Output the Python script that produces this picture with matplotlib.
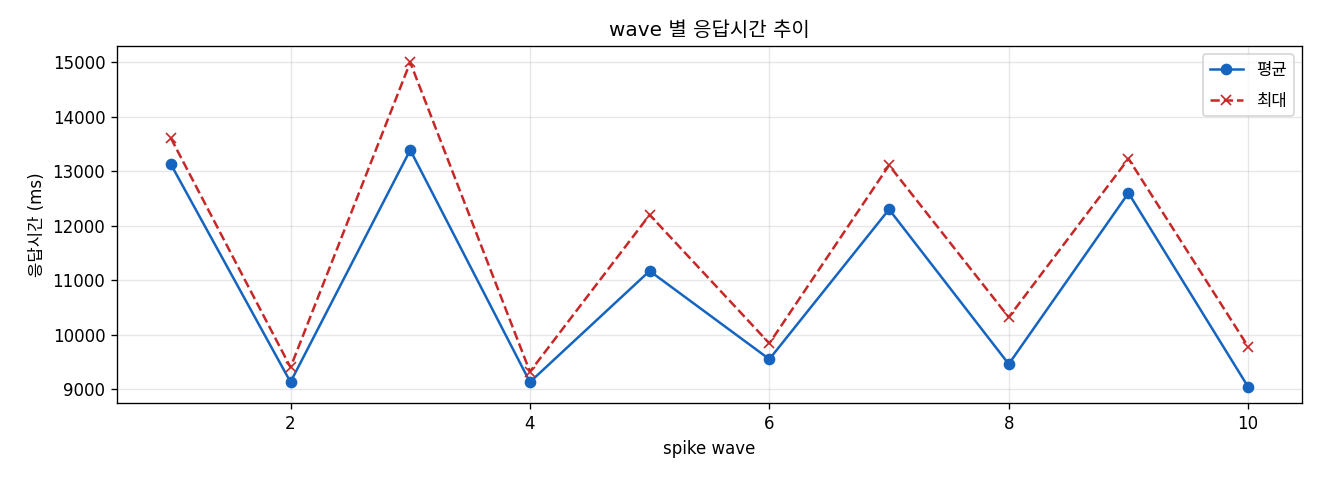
import matplotlib
matplotlib.use("Agg")
import matplotlib.pyplot as plt

# 숫자는 DejaVu, 한글은 Noto CJK 로 대체
plt.rcParams['font.family'] = ['DejaVu Sans', 'Noto Sans CJK KR']
plt.rcParams['axes.unicode_minus'] = False

# 데이터
waves = [1, 2, 3, 4, 5, 6, 7, 8, 9, 10]
avg_ms = [13130, 9130, 13390, 9130, 11170, 9550, 12300, 9460, 12600, 9040]
max_ms = [13610, 9400, 15000, 9320, 12200, 9840, 13110, 10320, 13230, 9780]

fig, ax = plt.subplots(figsize=(11, 4), dpi=120)
ax.plot(waves, avg_ms, marker='o', color='#1565C0', label='평균')
ax.plot(waves, max_ms, marker='x', linestyle='--', color='#C62828', label='최대')
ax.set_title('wave 별 응답시간 추이')
ax.set_xlabel('spike wave')
ax.set_ylabel('응답시간 (ms)')
ax.grid(True, alpha=0.3)
ax.legend(loc='upper right', labelspacing=0.75)
fig.subplots_adjust(left=0.0886, right=0.9864, top=0.904, bottom=0.160)
plt.savefig('out.png')
